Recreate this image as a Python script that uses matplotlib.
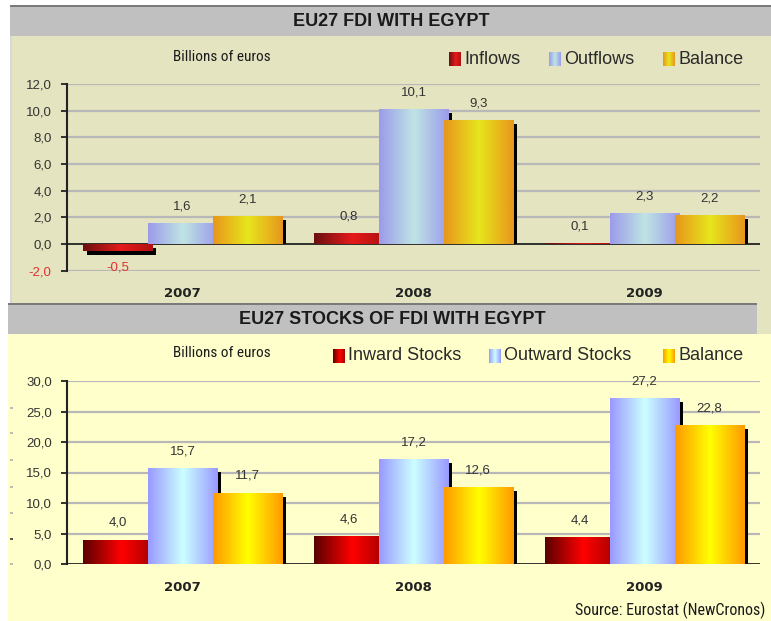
import matplotlib
matplotlib.use("Agg")
import matplotlib.pyplot as plt
from matplotlib.patches import Rectangle
from matplotlib.colors import LinearSegmentedColormap
import numpy as np

# ---------------- data ----------------
years = ['2007', '2008', '2009']
inflows = [-0.5, 0.8, 0.1]
outflows = [1.6, 10.1, 2.3]
balance_flows = [2.1, 9.3, 2.2]
inward_stocks = [4.0, 4.6, 4.4]
outward_stocks = [15.7, 17.2, 27.2]
balance_stocks = [11.7, 12.6, 22.8]
flow_ticks = [-2, 0, 2, 4, 6, 8, 10, 12]
stock_ticks = [0, 5, 10, 15, 20, 25, 30]
flow_names = ['Inflows', 'Outflows', 'Balance']
stock_names = ['Inward Stocks', 'Outward Stocks', 'Balance']

NARROW = ['Roboto Condensed', 'DejaVu Sans']
SANS = ['Liberation Sans', 'DejaVu Sans']
WIDE = ['DejaVu Sans']
plt.rcParams['font.family'] = SANS

def fmt(v):
    return f"{v:.1f}".replace('.', ',')

top_cmaps = [
    LinearSegmentedColormap.from_list('ti', [(0, '#6a1010'), (0.55, '#e61a1a'), (1, '#b01212')]),
    LinearSegmentedColormap.from_list('to', [(0, '#9b9bea'), (0.5, '#bfe4e4'), (1, '#9b9bea')]),
    LinearSegmentedColormap.from_list('tb', [(0, '#e8961c'), (0.5, '#e6e61c'), (1, '#e8961c')]),
]
bot_cmaps = [
    LinearSegmentedColormap.from_list('bi', [(0, '#5a0000'), (0.55, '#ff0000'), (1, '#a80000')]),
    LinearSegmentedColormap.from_list('bo', [(0, '#9999ff'), (0.5, '#ccffff'), (1, '#9999ff')]),
    LinearSegmentedColormap.from_list('bb', [(0, '#ff9900'), (0.5, '#ffff00'), (1, '#ff9900')]),
]
grad = np.linspace(0, 1, 256).reshape(1, -1)

W, H = 771, 621
fig = plt.figure(figsize=(W / 100, H / 100), dpi=100)
fig.patch.set_facecolor('white')

# ---------------- background panels (pixel coords) ----------------
bg = fig.add_axes([0, 0, 1, 1], zorder=0)
bg.set_xlim(0, W)
bg.set_ylim(H, 0)
bg.axis('off')
bg.add_patch(Rectangle((10, 5), 761, 329, color='#d8d8d8', lw=0))
bg.add_patch(Rectangle((12, 36), 759, 298, color='#e4e4c0', lw=0))
bg.add_patch(Rectangle((10, 5), 761, 2, color='#7a7a7a', lw=0))
bg.add_patch(Rectangle((10, 7), 761, 29, color='#c0c0c0', lw=0))
bg.add_patch(Rectangle((8, 334), 763, 287, color='#ffffcc', lw=0))
bg.add_patch(Rectangle((8, 303), 749, 2, color='#7a7a7a', lw=0))
bg.add_patch(Rectangle((8, 305), 749, 29, color='#c0c0c0', lw=0))
# small stray marks at the left edge of the lower panel
for yy, cc in [(408, '#b0b0b0'), (433, '#b0b0b0'), (460, '#b0b0b0'), (487, '#b0b0b0'),
               (513, '#b0b0b0'), (539, '#333333'), (564, '#b0b0b0')]:
    bg.plot([10, 13], [yy, yy], color=cc, lw=1.2, solid_capstyle='butt')

bg.text(391, 21, 'EU27 FDI WITH EGYPT', ha='center', va='center',
        fontsize=13, fontweight='bold', family=SANS, color='#1a1a1a')
bg.text(392, 320, 'EU27 STOCKS OF FDI WITH EGYPT', ha='center', va='center',
        fontsize=13, fontweight='bold', family=SANS, color='#1a1a1a')
bg.text(222, 57, 'Billions of euros', ha='center', va='center',
        fontsize=11, family=NARROW, color='#1a1a1a')
bg.text(222, 353, 'Billions of euros', ha='center', va='center',
        fontsize=11, family=NARROW, color='#1a1a1a')
bg.text(765, 610, 'Source: Eurostat (NewCronos)', ha='right', va='center',
        fontsize=11.5, family=NARROW, color='#1a1a1a')

def legend_item(x, y, cmap, label):
    r = Rectangle((x, y - 7), 12, 14, lw=0, fc='none')
    bg.add_patch(r)
    im = bg.imshow(grad, cmap=cmap, extent=(x, x + 12, y + 7, y - 7),
                   aspect='auto', interpolation='bilinear', zorder=2)
    im.set_clip_path(r)
    bg.text(x + 15, y, label, ha='left', va='center', fontsize=13,
            color='#2a2a2a', family=SANS)

legend_item(449, 59, top_cmaps[0], flow_names[0])
legend_item(549, 59, top_cmaps[1], flow_names[1])
legend_item(663, 59, top_cmaps[2], flow_names[2])
legend_item(333, 356, bot_cmaps[0], stock_names[0])
legend_item(489, 356, bot_cmaps[1], stock_names[1])
legend_item(663, 356, bot_cmaps[2], stock_names[2])
bg.set_xlim(0, W)
bg.set_ylim(H, 0)

# ---------------- chart axes ----------------
def draw_panel(rect, series, cmaps, ylim, ticks, neg_color):
    ax = fig.add_axes(rect, zorder=1)
    ax.set_facecolor('none')
    x = np.arange(len(years))
    offsets = [-0.28, 0.0, 0.28]
    width = 0.30
    px_x = (rect[2] * W) / 3.0                      # pixels per category unit
    px_y = (rect[3] * H) / (ylim[1] - ylim[0])      # pixels per value unit
    dx = 4.0 / px_x
    dy = 4.0 / px_y
    for i, (vals, cmap) in enumerate(zip(series, cmaps)):
        z = 3 + i * 0.3
        # shadows
        sh_bottom = [0 if v >= 0 else -dy for v in vals]
        sh_height = [max(v - dy, 0) if v >= 0 else v for v in vals]
        ax.bar(x + offsets[i] + dx, sh_height, width, bottom=sh_bottom,
               fc='black', lw=0, zorder=z)
        bars = ax.bar(x + offsets[i], vals, width, fc='#888888', lw=0, zorder=z + 0.1)
        for b, v in zip(bars, vals):
            x0, y0 = b.get_x(), b.get_y()
            x1, y1 = x0 + b.get_width(), y0 + b.get_height()
            im = ax.imshow(grad, cmap=cmap, extent=(x0, x1, min(y0, y1), max(y0, y1)),
                           aspect='auto', interpolation='bilinear', zorder=z + 0.2)
            im.set_clip_path(b)
            if v >= 0:
                ax.annotate(fmt(v), (b.get_x() + b.get_width() / 2, v), xytext=(0, 12),
                            textcoords='offset points', ha='center', va='center',
                            fontsize=9.5, color='#333333', zorder=10)
            else:
                ax.annotate(fmt(v), (b.get_x() + b.get_width() / 2, v), xytext=(0, -12),
                            textcoords='offset points', ha='center', va='center',
                            fontsize=9.5, color='#e03030', zorder=10)
    ax.set_xlim(-0.5, 2.5)
    ax.set_ylim(*ylim)
    ax.set_yticks(ticks)
    ax.set_yticklabels([fmt(t) for t in ticks], fontsize=9.5, color='#333333')
    for t, lab in zip(ticks, ax.get_yticklabels()):
        if t < 0:
            lab.set_color(neg_color)
    ax.set_xticks(x)
    ax.set_xticklabels(years, fontsize=9.5, fontweight='bold', color='#222222', family=WIDE)
    ax.tick_params(axis='x', length=0, pad=12)
    ax.tick_params(axis='y', length=4, width=1.3, color='#222222', pad=7, direction='out')
    for t in ticks:
        if t != 0:
            ax.axhline(t, color='#b8b8b8', lw=1.6, zorder=1)
    ax.axhline(0, color='#111111', lw=1.2, zorder=2.9)
    for s in ['top', 'right', 'bottom']:
        ax.spines[s].set_visible(False)
    ax.spines['left'].set_color('#222222')
    ax.spines['left'].set_linewidth(1.5)
    return ax

draw_panel([67 / W, 1 - 270.7 / H, 693 / W, (270.7 - 84) / H],
           [inflows, outflows, balance_flows], top_cmaps, (-2, 12), flow_ticks, '#e03030')
draw_panel([67 / W, 1 - 564 / H, 693 / W, (564 - 381) / H],
           [inward_stocks, outward_stocks, balance_stocks], bot_cmaps, (0, 30), stock_ticks, '#333333')

fig.savefig('out.png', dpi=100, facecolor=fig.get_facecolor())
